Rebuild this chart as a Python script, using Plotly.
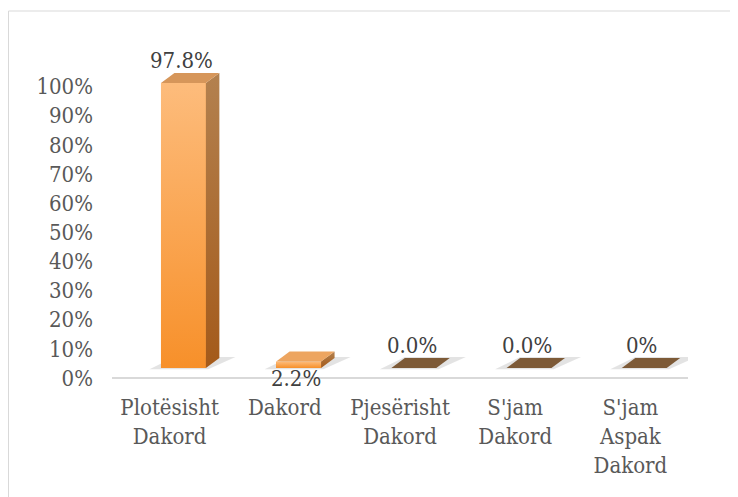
import plotly.graph_objects as go

categories = ["Plotësisht<br>Dakord", "Dakord", "Pjesërisht<br>Dakord", "S'jam<br>Dakord", "S'jam<br>Aspak<br>Dakord"]
values = [97.8, 2.2, 0.0, 0.0, 0.0]
value_labels = ["97.8%", "2.2%", "0.0%", "0.0%", "0%"]
label_below = [False, True, False, False, False]
y_ticks = [0, 10, 20, 30, 40, 50, 60, 70, 80, 90, 100]
y_ticktext = [f"{t}%" for t in y_ticks]

FONT = "DejaVu Serif Condensed, DejaVu Serif, serif"

# geometry (style) in axis units
W = 0.39        # front face width
OFF = 0.12      # front face centre offset from category centre
DX = 0.117      # depth x
DY = 3.43       # depth y

front_top, front_bot = "#FDBC7C", "#F7902A"
side_top, side_bot = "#B3814F", "#A45A1A"

fig = go.Figure()

xs = list(range(len(categories)))

# shadows
for i, v in zip(xs, values):
    xl = i + OFF - W / 2
    xr = i + OFF + W / 2
    fig.add_trace(go.Scatter(
        x=[xl - 0.1, xr + 0.02, xr + DX + 0.14, xl + DX, xl - 0.1],
        y=[-0.4, -0.4, DY + 0.3, DY + 0.3, -0.4],
        fill="toself", fillcolor="rgba(0,0,0,0.11)", mode="lines",
        line=dict(width=0), hoverinfo="skip", showlegend=False))

# front faces (bars)
fig.add_trace(go.Bar(
    x=xs, y=values, width=W, offset=OFF - W / 2,
    marker=dict(color="#FBA24D", line=dict(width=0)),
    hoverinfo="skip", showlegend=False))

for i, v in zip(xs, values):
    xl = i + OFF - W / 2
    xr = i + OFF + W / 2
    if v > 0:
        # gradient front face
        fig.add_trace(go.Scatter(
            x=[xl, xr, xr, xl, xl], y=[0, 0, v, v, 0],
            fill="toself", mode="lines", line=dict(width=0),
            fillgradient=dict(type="vertical", colorscale=[[0, front_bot], [1, front_top]]),
            hoverinfo="skip", showlegend=False))
        # side face
        fig.add_trace(go.Scatter(
            x=[xr, xr + DX, xr + DX, xr, xr], y=[0, DY, v + DY, v, 0],
            fill="toself", mode="lines", line=dict(width=0),
            fillgradient=dict(type="vertical", colorscale=[[0, side_bot], [1, side_top]]),
            hoverinfo="skip", showlegend=False))
        top_col = "#D6965A" if v > 10 else "#EDA560"
    else:
        top_col = "#7D5A37"
    fig.add_trace(go.Scatter(
        x=[xl, xr, xr + DX, xl + DX, xl], y=[v, v, v + DY, v + DY, v],
        fill="toself", fillcolor=top_col, mode="lines", line=dict(width=0),
        hoverinfo="skip", showlegend=False))

# value labels
annotations = []
for i, v, t, b in zip(xs, values, value_labels, label_below):
    if b:
        pos = dict(y=0, yshift=-11)
    else:
        pos = dict(y=v + DY + 4.3)
    annotations.append(dict(
        x=i + 0.1, xref="x", yref="y",
        text=t, showarrow=False, xanchor="center", yanchor="middle",
        font=dict(family=FONT, size=22, color="#404040"), **pos))

# page has an 8px body margin; margins compensate for it
fig.update_layout(
    width=738, height=497,
    margin=dict(l=104, r=58, t=32, b=128),
    paper_bgcolor="white", plot_bgcolor="white",
    font=dict(family=FONT, size=22, color="#595959"),
    bargap=0,
    annotations=annotations,
    xaxis=dict(
        range=[-0.5, 4.5], tickvals=xs, ticktext=categories,
        showgrid=False, zeroline=False, showline=True,
        linecolor="#D9D9D9", linewidth=2, ticks="", automargin=False,
        ticklabelstandoff=10,
        tickfont=dict(family=FONT, size=22, color="#595959")),
    yaxis=dict(
        range=[-3.1, 112.55], tickvals=y_ticks, ticktext=y_ticktext,
        showgrid=False, zeroline=False, showline=False, ticks="", automargin=False,
        ticklabelshift=10, ticklabelstandoff=18,
        tickfont=dict(family=FONT, size=22, color="#595959")),
    shapes=[dict(type="rect", xref="paper", yref="paper",
                 x0=(0.5 - 104) / 576, y0=-0.6, x1=1.3, y1=(369 - 3) / 337,
                 line=dict(color="#D9D9D9", width=1), fillcolor="rgba(0,0,0,0)",
                 layer="below")],
)

fig.write_html("out.html")
